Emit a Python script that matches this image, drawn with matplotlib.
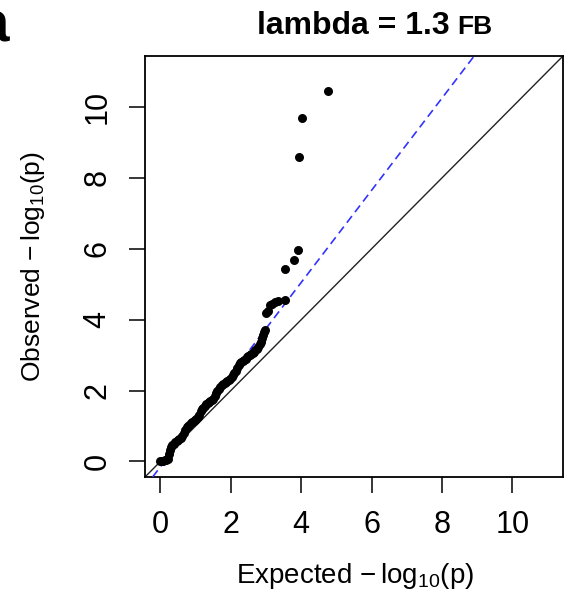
import matplotlib
matplotlib.use("Agg")
import matplotlib.pyplot as plt

plt.rcParams["font.family"] = ["Liberation Sans", "DejaVu Sans"]
plt.rcParams["mathtext.fontset"] = "custom"
plt.rcParams["mathtext.rm"] = "Liberation Sans"

# expected vs observed -log10(p)
expected = [0.00, 0.04, 0.08, 0.12, 0.16, 0.20, 0.24, 0.27, 0.30, 0.34,
            0.38, 0.42, 0.46, 0.50, 0.54, 0.58, 0.62, 0.66, 0.70, 0.74,
            0.78, 0.82, 0.86, 0.90, 0.94, 0.98, 1.02, 1.06, 1.10, 1.14,
            1.18, 1.22, 1.26, 1.30, 1.34, 1.38, 1.42, 1.46, 1.50, 1.54,
            1.58, 1.62, 1.66, 1.70, 1.74, 1.78, 1.82, 1.86, 1.90, 1.94,
            1.98, 2.02, 2.06, 2.10, 2.14, 2.18, 2.22, 2.26, 2.30, 2.34,
            2.38, 2.42, 2.46, 2.50, 2.54, 2.58, 2.62, 2.66, 2.70, 2.74,
            2.78, 2.82, 2.85, 2.88, 2.91, 2.94, 2.97, 3.00, 3.05, 3.12,
            3.18, 3.26, 3.33, 3.55, 3.55, 3.80, 3.90, 3.95, 4.03, 4.77]
observed = [0.00, 0.00, 0.01, 0.03, 0.04, 0.06, 0.20, 0.32, 0.42, 0.47,
            0.50, 0.54, 0.57, 0.60, 0.63, 0.67, 0.71, 0.80, 0.90, 0.96,
            1.00, 1.04, 1.08, 1.12, 1.15, 1.18, 1.21, 1.24, 1.32, 1.42,
            1.48, 1.52, 1.56, 1.61, 1.64, 1.67, 1.70, 1.73, 1.77, 1.85,
            1.92, 1.98, 2.04, 2.10, 2.16, 2.19, 2.22, 2.25, 2.27, 2.30,
            2.33, 2.38, 2.44, 2.50, 2.56, 2.63, 2.72, 2.78, 2.81, 2.84,
            2.87, 2.90, 2.94, 2.98, 3.01, 3.04, 3.07, 3.10, 3.13, 3.16,
            3.22, 3.30, 3.38, 3.48, 3.56, 3.64, 3.72, 4.20, 4.24, 4.40,
            4.44, 4.50, 4.52, 4.56, 5.44, 5.69, 5.97, 8.59, 9.69, 10.45]

lambda_gc = 1.3
fit_intercept = -0.15
ticks = [0, 2, 4, 6, 8, 10]
max_val = 11

fig = plt.figure(figsize=(5.64, 5.90), dpi=100)
ax = fig.add_axes([145 / 564, 113 / 590, 418 / 564, 421 / 590])

ax.axline((0, 0), slope=1, color="#222222", lw=1.0, zorder=2)
ax.axline((0, fit_intercept), slope=lambda_gc, color="#3333ff", lw=1.2,
          dashes=[5, 3], zorder=3)
ax.scatter(expected, observed, s=42, color="black", linewidths=0, zorder=4)

pad = 0.04 * max_val
ax.set_xlim(-pad, max_val + pad)
ax.set_ylim(-pad, max_val + pad)
ax.set_xticks(ticks)
ax.set_yticks(ticks)
ax.tick_params(direction="out", length=11.5, width=1.1, labelsize=22, pad=12)
for label in ax.get_yticklabels():
    label.set_rotation(90)
    label.set_verticalalignment("center")
for sp in ax.spines.values():
    sp.set_linewidth(1.3)

fig.text(355 / 564, (590 - 583) / 590, r"Expected $-\,\mathrm{log}_{10}\mathrm{(p)}$",
         ha="center", va="baseline", fontsize=20)
fig.text(40 / 564, (590 - 267) / 590, r"Observed $-\,\mathrm{log}_{10}\mathrm{(p)}$",
         ha="center", va="baseline", fontsize=19, rotation=90,
         rotation_mode="anchor")

fig.text(257 / 564, (590 - 34) / 590, "lambda = 1.3", ha="left", va="baseline",
         fontsize=23, fontweight="bold")
fig.text(457 / 564, (590 - 34) / 590, "FB", ha="left", va="baseline",
         fontsize=19, fontweight="bold")
# panel letter, mostly cut off at the left edge
fig.text(9 / 564, (590 - 41) / 590, "a", ha="right", va="baseline",
         fontsize=42, fontweight="bold")

fig.savefig("out.png", dpi=100)
